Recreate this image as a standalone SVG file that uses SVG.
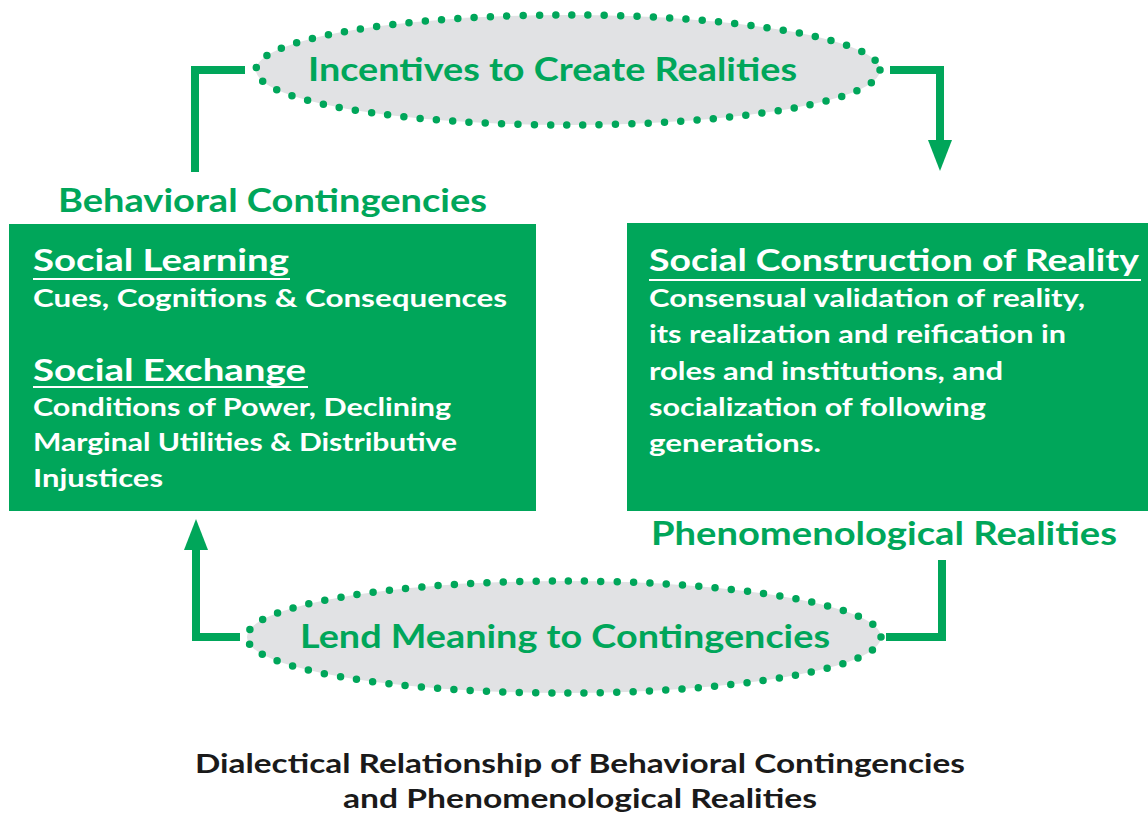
<svg xmlns="http://www.w3.org/2000/svg" width="1148" height="818" viewBox="0 0 1148 818">
  <defs>
    <style>
      .box { fill: #00a65a; }
      .oval { fill: #e1e2e4; stroke: #00a65a; stroke-width: 7.5; stroke-dasharray: 0 16.3; stroke-linecap: round; }
      .wire { fill: none; stroke: #00a65a; stroke-width: 8; }
      .head { fill: #00a65a; }
      text { font-family: Lato, "Open Sans", "Liberation Sans", sans-serif; font-weight: 700; }
      .oval-label { font-size: 33px; fill: #00a65a; }
      .group-label { font-size: 32px; fill: #00a65a; }
      .title { font-size: 31px; fill: #ffffff; }
      .body { font-size: 24px; fill: #ffffff; }
      .rule { stroke: #ffffff; stroke-width: 2; }
      .caption { font-size: 26px; fill: #1a1a1a; text-anchor: middle; }
    </style>
  </defs>

  <rect width="1148" height="818" fill="#ffffff"/>

  <!-- connectors -->
  <g id="connectors">
    <polyline class="wire" points="195,172 195,70 245,70"/>
    <polyline class="wire" points="890,70 940,70 940,142"/>
    <polygon class="head" points="928,140 952,140 940,171"/>
    <polyline class="wire" points="942,560 942,637 886,637"/>
    <polyline class="wire" points="240,637 196,637 196,548"/>
    <polygon class="head" points="184,550 208,550 196,519"/>
  </g>

  <!-- top oval -->
  <g id="incentives">
    <ellipse class="oval" cx="568" cy="70" rx="312" ry="55"/>
    <text class="oval-label" x="308" y="81" textLength="489" lengthAdjust="spacingAndGlyphs">Incentives to Create Realities</text>
  </g>

  <!-- left box -->
  <g id="behavioral">
    <text class="group-label" x="58" y="212" textLength="429" lengthAdjust="spacingAndGlyphs">Behavioral Contingencies</text>
    <rect class="box" x="9" y="224" width="527" height="287"/>
    <text class="title" x="33" y="271" textLength="256" lengthAdjust="spacingAndGlyphs">Social Learning</text>
    <line class="rule" x1="33" y1="279" x2="290" y2="279"/>
    <text class="body" x="33" y="307" textLength="474" lengthAdjust="spacingAndGlyphs">Cues, Cognitions &amp; Consequences</text>
    <text class="title" x="33" y="381" textLength="273" lengthAdjust="spacingAndGlyphs">Social Exchange</text>
    <line class="rule" x1="33" y1="387" x2="308" y2="387"/>
    <text class="body" x="33" y="416" textLength="418" lengthAdjust="spacingAndGlyphs">Conditions of Power, Declining</text>
    <text class="body" x="33" y="451" textLength="424" lengthAdjust="spacingAndGlyphs">Marginal Utilities &amp; Distributive</text>
    <text class="body" x="33" y="487" textLength="130" lengthAdjust="spacingAndGlyphs">Injustices</text>
  </g>

  <!-- right box -->
  <g id="phenomenological">
    <rect class="box" x="627" y="223" width="521" height="288"/>
    <text class="title" x="649" y="271" textLength="490" lengthAdjust="spacingAndGlyphs">Social Construction of Reality</text>
    <line class="rule" x1="649" y1="280" x2="1141" y2="280"/>
    <text class="body" x="649" y="307" textLength="436" lengthAdjust="spacingAndGlyphs">Consensual validation of reality,</text>
    <text class="body" x="649" y="343" textLength="417" lengthAdjust="spacingAndGlyphs">its realization and reification in</text>
    <text class="body" x="649" y="380" textLength="354" lengthAdjust="spacingAndGlyphs">roles and institutions, and</text>
    <text class="body" x="649" y="416" textLength="337" lengthAdjust="spacingAndGlyphs">socialization of following</text>
    <text class="body" x="649" y="452" textLength="172" lengthAdjust="spacingAndGlyphs">generations.</text>
    <text class="group-label" x="651" y="545" textLength="466" lengthAdjust="spacingAndGlyphs">Phenomenological Realities</text>
  </g>

  <!-- bottom oval -->
  <g id="lend-meaning">
    <ellipse class="oval" cx="564" cy="637" rx="317" ry="56"/>
    <text class="oval-label" x="300" y="648" textLength="530" lengthAdjust="spacingAndGlyphs">Lend Meaning to Contingencies</text>
  </g>

  <!-- caption -->
  <g id="caption">
    <text class="caption" x="580" y="773" textLength="770" lengthAdjust="spacingAndGlyphs">Dialectical Relationship of Behavioral Contingencies</text>
    <text class="caption" x="580" y="808" textLength="474" lengthAdjust="spacingAndGlyphs">and Phenomenological Realities</text>
  </g>
</svg>
